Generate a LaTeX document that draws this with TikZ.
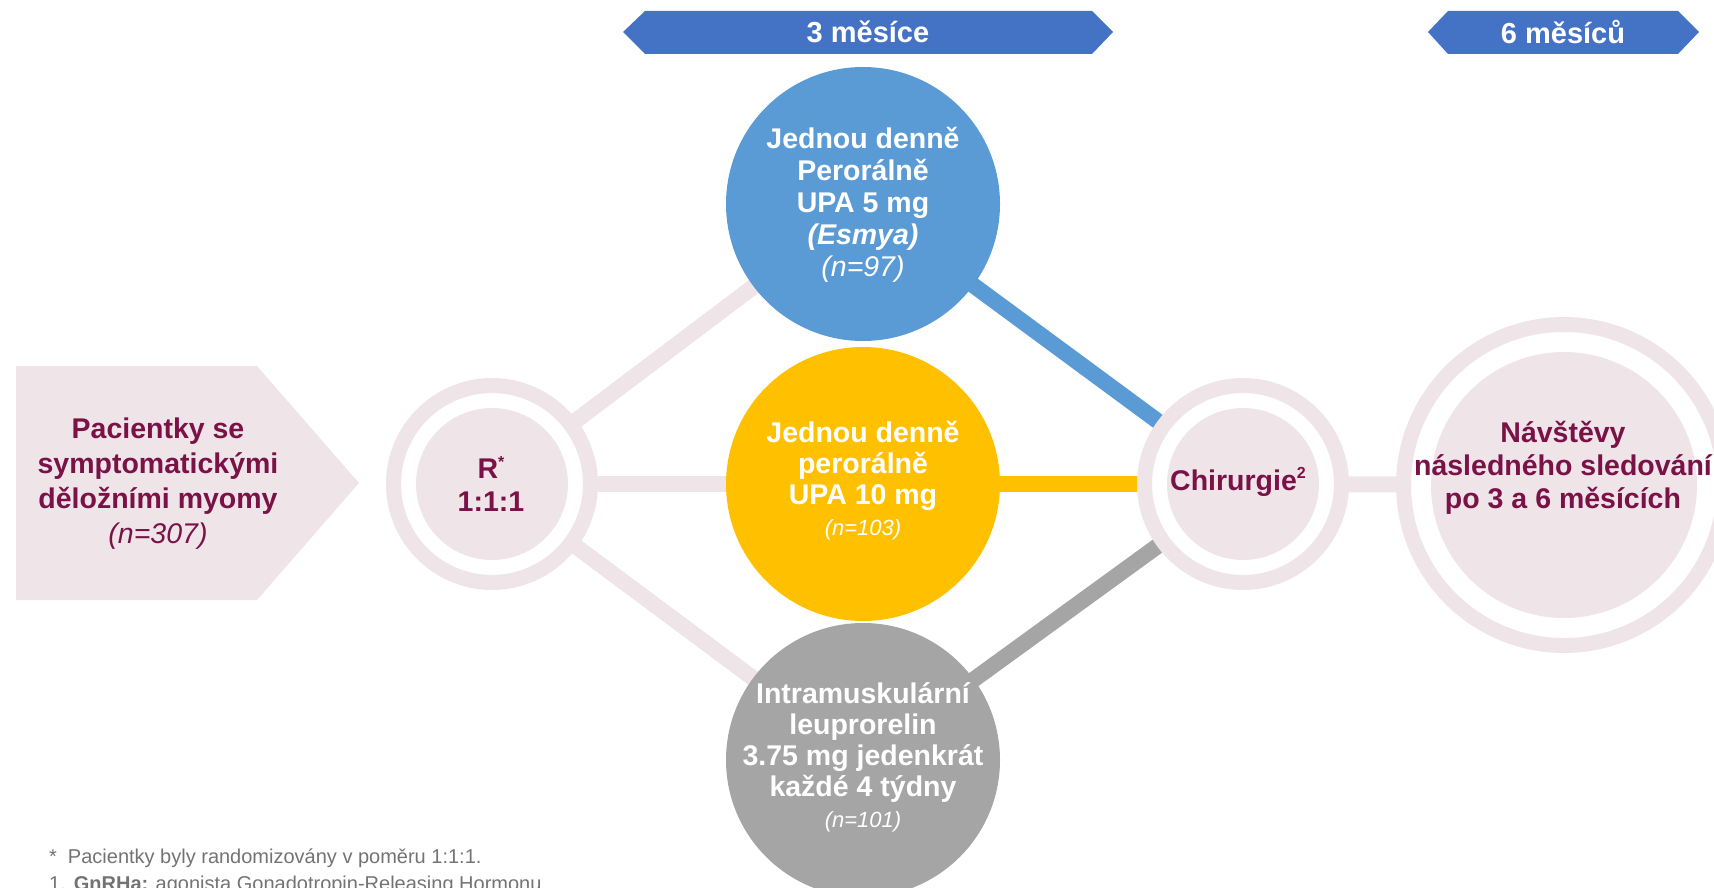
\documentclass[tikz,border=0pt]{standalone}
\usepackage{fontspec}
\setmainfont{Liberation Sans}
\pgfdeclarelayer{bg}
\pgfsetlayers{bg,main}
\definecolor{pinkc}{RGB}{239,229,233}
\definecolor{maroon}{RGB}{122,18,72}
\definecolor{bluec}{RGB}{91,155,213}
\definecolor{yellowc}{RGB}{255,192,0}
\definecolor{grayc}{RGB}{165,165,165}
\definecolor{bannerc}{RGB}{68,114,196}
\definecolor{fngray}{RGB}{115,115,115}
\newcommand{\supsmall}[1]{\raisebox{0.42em}{\fontsize{16}{16}\selectfont #1}}
\begin{document}
\begin{tikzpicture}[x=1pt,y=-1pt,
  ring/.style={circle, draw=pinkc, line width=15pt, fill=white, minimum size=197pt, inner sep=0pt,
    path picture={\fill[pinkc] (path picture bounding box.center) circle[radius=76pt];}},
  bigring/.style={circle, draw=pinkc, line width=15pt, fill=white, minimum size=321pt, inner sep=0pt,
    path picture={\fill[pinkc] (path picture bounding box.center) circle[radius=133pt];}},
  disc/.style={circle, minimum size=274pt, inner sep=0pt},
  conn/.style={line width=16pt},
  wtxt/.style={text=white, align=center, inner sep=0pt, font=\fontsize{28.5}{32}\selectfont\bfseries},
  mtxt/.style={text=maroon, align=center, inner sep=0pt, font=\fontsize{28.5}{33}\selectfont\bfseries},
  bantxt/.style={text=white, inner sep=0pt, font=\fontsize{29}{32}\selectfont\bfseries},
  fn/.style={text=fngray, inner sep=0pt, font=\fontsize{20}{24}\selectfont}]
\useasboundingbox (0,0) rectangle (1714,888);
\clip (0,0) rectangle (1714,888);

% banners
\fill[bannerc] (623,32) -- (645,11) -- (1092,11) -- (1113,32) -- (1092,54) -- (645,54) -- cycle;
\node[bantxt] (b1) at (868,32) {3 měsíce};
\fill[bannerc] (1428,32) -- (1448,11) -- (1678,11) -- (1699,32) -- (1678,54) -- (1448,54) -- cycle;
\node[bantxt] (b2) at (1563,32) {6 měsíců};

% left pentagon
\fill[pinkc] (16,366) -- (257,366) -- (359,483) -- (257,600) -- (16,600) -- cycle;
\node[mtxt, font=\fontsize{28.5}{35}\selectfont\bfseries] (P) at (158,484)
  {Pacientky se\\symptomatickými\\děložními myomy\\{\mdseries\itshape (n=307)}};

% circles
\node[ring] (R) at (492,484) {};
\node[mtxt] (Rt) at (491,484) {R\supsmall{*}\\1:1:1};

\node[disc, fill=bluec] (A) at (863,204) {};
\node[wtxt] (At) at (863,205) {Jednou denně\\Perorálně\\UPA 5 mg\\\textit{(Esmya)}\\{\mdseries\itshape (n=97)}};

\node[disc, fill=yellowc] (B) at (863,484) {};
\node[wtxt, font=\fontsize{28.5}{31}\selectfont\bfseries] (Bt) at (863,481) {Jednou denně\\perorálně\\UPA 10 mg\\{\fontsize{22}{26}\selectfont\mdseries\itshape (n=103)}};

\node[disc, fill=grayc] (C) at (863,760) {};
\node[wtxt, font=\fontsize{28.5}{31}\selectfont\bfseries] (Ct) at (863,757) {Intramuskulární\\leuprorelin\\3.75 mg jedenkrát\\každé 4 týdny\\{\fontsize{22}{26}\selectfont\mdseries\itshape (n=101)}};

\node[ring] (S) at (1243,484) {};
\node[mtxt] (St) at (1238,482) {Chirurgie\supsmall{2}};

\node[bigring] (F) at (1564,485) {};
\node[mtxt] (Ft) at (1563,468) {Návštěvy\\následného sledování\\po 3 a 6 měsících};

% connectors
\begin{pgfonlayer}{bg}
\draw[conn, pinkc] (R.center) -- (A.center);
\draw[conn, pinkc] (R.center) -- (B.center);
\draw[conn, pinkc] (R.center) -- (C.center);
\draw[conn, bluec] (A.center) -- (S.center);
\draw[conn, yellowc] (B.center) -- (S.center);
\draw[conn, grayc] (C.center) -- (S.center);
\draw[conn, pinkc] (S.center) -- (F.center);
\end{pgfonlayer}

% footnotes
\node[fn, anchor=base west] (f1) at (49,863) {*\hspace{0.55em}Pacientky byly randomizovány v poměru 1:1:1.};
\node[fn, anchor=base west] (f2) at (49,890) {1.\hspace{0.4em}\textbf{GnRHa:} agonista Gonadotropin-Releasing Hormonu};
\end{tikzpicture}
\end{document}
